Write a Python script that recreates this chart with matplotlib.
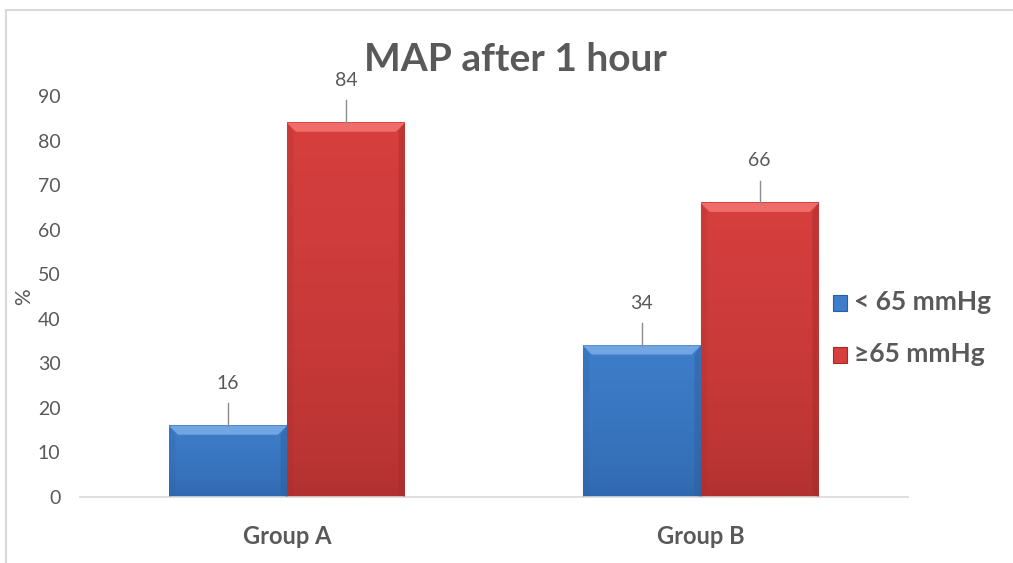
import matplotlib.pyplot as plt
from matplotlib.patches import Polygon, Rectangle
from matplotlib.lines import Line2D
import numpy as np

groups = ['Group A', 'Group B']
series_names = ['< 65 mmHg', '\u226565 mmHg']
below_65 = [16, 34]
above_65 = [84, 66]

colors = ['#3e7dca', '#d63f3e']
light = ['#72a6e2', '#ef6d69']
dark = ['#2b5e9f', '#a32b2a']
bottom_col = ['#2f67ad', '#b03130']
text_color = '#595959'

plt.rcParams['font.family'] = ['Lato', 'DejaVu Sans']

fig = plt.figure(figsize=(10.13, 5.63), dpi=100)
ax = fig.add_axes([0.079, 0.1172, 0.817, 0.7123])

x = np.arange(len(groups))
width = 0.285
ymax = 90
ax.set_xlim(-0.5, len(groups) - 0.5)
ax.set_ylim(0, ymax)

# bevel size converted from pixels to data units
ax_w_px = 0.817 * 1013
ax_h_px = 0.7123 * 563
bx = 9 * len(groups) / ax_w_px
by = 9 * ymax / ax_h_px


def bevel_bar(x0, h, i):
    x1 = x0 + width
    # vertical gradient: slightly darker towards the base
    grad = np.linspace(0, 1, 64).reshape(-1, 1)
    c_top = np.array(plt.matplotlib.colors.to_rgb(colors[i]))
    c_bot = np.array(plt.matplotlib.colors.to_rgb(bottom_col[i]))
    img = c_bot + (c_top - c_bot) * grad[..., None] ** 0.6
    ax.imshow(img, extent=[x0, x1, 0, h], origin='lower', aspect='auto',
              interpolation='bilinear', zorder=2)
    bh = min(by, h / 2)
    top = Polygon([(x0, h), (x1, h), (x1 - bx, h - bh), (x0 + bx, h - bh)],
                  closed=True, facecolor=light[i], edgecolor='none', zorder=3)
    right = Polygon([(x1, h), (x1 - bx * 0.7, h - bh), (x1 - bx * 0.7, bh * 0.3), (x1, 0)],
                    closed=True, facecolor=dark[i], alpha=0.45, edgecolor='none', zorder=3)
    left = Polygon([(x0, h), (x0 + bx * 0.7, h - bh), (x0 + bx * 0.7, bh * 0.3), (x0, 0)],
                   closed=True, facecolor=dark[i], alpha=0.2, edgecolor='none', zorder=3)
    ax.add_patch(top)
    ax.add_patch(left)
    ax.add_patch(right)


for i, vals in enumerate([below_65, above_65]):
    for j, v in enumerate(vals):
        x0 = x[j] - width + i * width
        bevel_bar(x0, v, i)
        cx = x0 + width / 2
        ax.plot([cx, cx], [v, v + 5], color='#8c8c8c', lw=1, zorder=4, clip_on=False)
        ax.text(cx, v + 9.5, str(v), ha='center', va='center', fontsize=14,
                color=text_color, clip_on=False)

ax.set_xticks(x)
ax.set_xticklabels(groups, fontsize=17, fontweight='bold', color=text_color)
ax.set_yticks(range(0, 91, 10))
ax.tick_params(axis='y', labelsize=14, colors=text_color, length=0, pad=14)
ax.tick_params(axis='x', length=0, pad=20)
for s in ['top', 'right', 'left']:
    ax.spines[s].set_visible(False)
ax.spines['bottom'].set_color('#d9d9d9')
ax.spines['bottom'].set_linewidth(1.2)

ax.set_ylabel('%', fontsize=15, color=text_color)
ax.yaxis.set_label_coords(-0.056, 0.5)

fig.text(0.509, 0.895, 'MAP after 1 hour', ha='center', va='center', fontsize=28,
         fontweight='bold', color=text_color)

# legend drawn as square markers with labels
for i, name in enumerate(series_names):
    yy = 0.463 - i * 0.092
    fig.patches.append(Rectangle((0.822, yy - 0.015), 0.0145, 0.028, transform=fig.transFigure,
                                 facecolor=colors[i], edgecolor=dark[i], lw=0.8, figure=fig))
    fig.text(0.843, yy, name, ha='left', va='center', fontsize=19, fontweight='bold',
             color=text_color)

# chart area border (top and left edges)
fig.lines.append(Line2D([0.006, 1.0], [0.982, 0.982], transform=fig.transFigure,
                        color='#d9d9d9', lw=1.5, figure=fig))
fig.lines.append(Line2D([0.006, 0.006], [0.0, 0.982], transform=fig.transFigure,
                        color='#d9d9d9', lw=1.5, figure=fig))

fig.savefig('out.png', dpi=100)
